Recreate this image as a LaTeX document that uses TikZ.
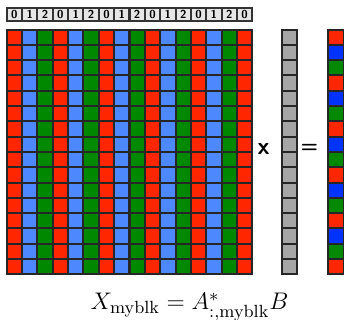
\documentclass[tikz,border=0pt]{standalone}
\usepackage{amsmath,amssymb}
\usepackage{xcolor}
\usepackage{tikz}
\usetikzlibrary{positioning}

\definecolor{colzero}{RGB}{255,38,0}
\definecolor{colone}{RGB}{77,136,255}
\definecolor{coltwo}{RGB}{0,136,0}
\definecolor{resone}{RGB}{0,51,255}
\definecolor{vecgray}{RGB}{166,166,166}
\definecolor{headgray}{RGB}{230,230,230}

\begin{document}
\begin{tikzpicture}[
    x=0.5pt, y=-0.5pt,
    cell/.style={rectangle, draw=black!85, line width=1pt, inner sep=0pt, minimum width=7.67pt, minimum height=7.65pt},
    headbox/.style={rectangle, draw=black!80, line width=1pt, fill=headgray, inner sep=0pt, minimum width=7.67pt, minimum height=6.3pt, font=\fontsize{5.8}{6}\selectfont\sffamily\bfseries},
    opsign/.style={font=\large\sffamily\bfseries},
]
\useasboundingbox (0,0) rectangle (344,320);

% column header
\foreach \c in {0,...,15} {
    \pgfmathtruncatemacro\k{mod(\c,3)}
    \node[headbox] (h-\c) at ({6.7+15.35*(\c+0.5)}, 14.5) {\k};
}

% matrix A
\foreach \r in {0,...,15} {
    \foreach \c in {0,...,15} {
        \pgfmathtruncatemacro\k{mod(\c,3)}
        \ifcase\k \def\cc{colzero}\or \def\cc{colone}\else \def\cc{coltwo}\fi
        \node[cell, fill=\cc] (a-\r-\c) at ({6.7+15.35*(\c+0.5)}, {29.6+15.3*(\r+0.5)}) {};
    }
}

% vector B and result
\foreach \r in {0,...,15} {
    \pgfmathtruncatemacro\k{mod(\r,3)}
    \ifcase\k \def\cc{colzero}\or \def\cc{resone}\else \def\cc{coltwo}\fi
    \node[cell, fill=vecgray] (b-\r) at (289.3, {29.6+15.3*(\r+0.5)}) {};
    \node[cell, fill=\cc] (x-\r) at (336.1, {29.6+15.3*(\r+0.5)}) {};
}

\node[opsign] (times) at (263.5, 149) {x};
\node[opsign, font=\normalsize\sffamily\bfseries] (equals) at (309.5, 148) {=};

\node[font=\fontsize{12.6}{15}\selectfont, anchor=base] (eqn) at (189.5, 310) {$X_{\text{myblk}} = A^*_{:,\text{myblk}} B$};

\end{tikzpicture}
\end{document}
